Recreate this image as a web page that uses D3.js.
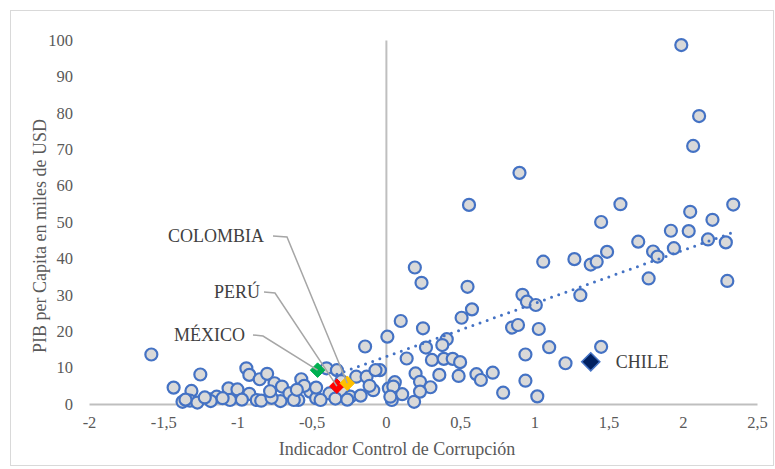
<!DOCTYPE html>
<html><head><meta charset="utf-8">
<script src="https://cdn.jsdelivr.net/npm/d3@7"></script>
<style>body{margin:0;background:#fff}svg{display:block}</style>
</head><body><svg id="c" width="775" height="469"></svg>
<script>
// Data: [Indicador Control de Corrupción, PIB per capita (miles USD)]
const countryX = [1.99,2.11,2.07,1.58,2.34,1.45,2.05,2.20,1.70,1.92,2.04,1.27,1.38,1.42,1.49,1.80,1.83,1.94,2.17,2.29,1.77,2.30,1.31,1.21,1.45,
 0.56,0.90,0.195,1.06,
 0.24,0.55,0.58,0.51,0.92,0.95,1.01,0.10,0.25,0.01,0.85,0.89,1.03,1.10,0.94,0.94,1.02,0.79,0.72,0.61,0.64,0.49,0.36,0.41,0.38,0.27,0.14,0.31,0.39,0.45,0.50,0.20,0.23,0.30,0.06,0.02,0.11,0.04,0.19,0.23,
 -0.14,-0.04,0.05,
 -1.58,-1.25,-1.43,-1.31,-1.37,-1.32,-1.27,-1.18,-1.14,-1.18,-1.06,-1.00,-0.94,-0.92,-0.85,-0.80,-0.92,-0.87,-1.05,-1.10,-1.22,-1.35,-0.97,
 -0.75,-0.70,-0.71,-0.65,-0.57,-0.59,-0.51,-0.47,-0.40,-0.38,-0.29,-0.24,-0.20,-0.13,-0.07,-0.085,
 -0.84,-0.77,-0.62,-0.44,-0.34,-0.26,-0.17,-0.33,-0.11,-0.55,-0.47,-0.78,-0.60,-0.30,0.03];
const countryY = [98.6,79.1,70.9,54.9,54.8,50.0,52.8,50.6,44.6,47.6,47.5,39.8,38.3,39.1,41.8,41.9,40.5,42.8,45.2,44.4,34.5,33.8,29.9,11.2,15.7,
 54.7,63.5,37.5,39.1,
 33.3,32.2,26.0,23.7,30.0,28.1,27.2,22.8,20.8,18.5,21.0,21.7,20.6,15.6,13.6,6.4,2.1,3.1,8.6,8.2,6.6,7.7,8.0,17.8,16.2,15.5,12.5,12.1,12.4,12.4,11.5,8.4,6.1,4.6,6.0,4.3,2.7,1.1,0.6,3.4,
 15.8,9.3,4.8,
 13.6,8.1,4.5,3.6,0.6,0.9,0.4,1.3,2.0,0.8,4.3,4.0,9.8,8.0,6.8,8.3,2.8,1.1,1.1,1.6,1.8,1.2,1.2,
 5.7,4.8,0.8,2.9,6.8,1.1,3.4,1.6,9.8,2.9,3.4,2.0,7.5,7.5,9.3,3.8,
 0.9,1.7,1.1,1.1,1.5,1.2,2.3,9.3,5.0,5.0,4.5,3.5,3.9,6.3,2.0];

const highlightNames = ["MÉXICO","PERÚ","COLOMBIA"];
const highlightX = [-0.46,-0.33,-0.26];
const highlightY = [9.3,4.9,5.7];
const highlightColors = ["#00b050","#ff0000","#ffc000"];

const chileName = "CHILE";
const chileX = 1.38;
const chileY = 11.6;

const xTicks = [-2,-1.5,-1,-0.5,0,0.5,1,1.5,2,2.5];
const yTicks = [0,10,20,30,40,50,60,70,80,90,100];

// Trend line (linear fit)
const trendSlope = 14.6, trendIntercept = 13.0;
const trendRange = [-0.33, 2.33];

const xTitle = "Indicador Control de Corrupción";
const yTitle = "PIB per Capita en miles de USD";

const svg = d3.select("#c");
const font = "'Liberation Serif','Times New Roman',serif";

svg.append("rect").attr("x",10.5).attr("y",10.5).attr("width",763).attr("height",455)
  .attr("fill","#fff").attr("stroke","#d9d9d9").attr("stroke-width",1);

const x = d3.scaleLinear().domain([-2,2.5]).range([89,757]);
const y = d3.scaleLinear().domain([0,100]).range([404,40]);

const xAxis = d3.axisBottom(x).tickValues(xTicks).tickSize(0).tickPadding(12)
  .tickFormat(d => String(d).replace(".", ","));
const gx = svg.append("g").attr("transform",`translate(0,${y(0)})`).call(xAxis);
gx.select(".domain").attr("stroke","#bfbfbf").attr("stroke-width",2);
gx.selectAll("text").attr("font-family",font).attr("font-size",16.5).attr("fill","#595959");

const yAxis = d3.axisLeft(y).tickValues(yTicks).tickSize(0).tickPadding(0);
const gy = svg.append("g").attr("transform",`translate(${x(0)},0)`).call(yAxis);
gy.select(".domain").attr("stroke","#bfbfbf").attr("stroke-width",2);
gy.selectAll("text").attr("font-family",font).attr("font-size",16.5).attr("fill","#595959")
  .attr("x", 73 - x(0)).attr("text-anchor","end");

svg.append("text").attr("x",397).attr("y",455).attr("text-anchor","middle")
  .attr("font-family",font).attr("font-size",18).attr("fill","#595959").text(xTitle);
svg.append("text").attr("transform","translate(46,236) rotate(-90)").attr("text-anchor","middle")
  .attr("font-family",font).attr("font-size",18).attr("fill","#595959").text(yTitle);

const pts = countryX.map((v,i)=>({x:v,y:countryY[i]}));
svg.append("g").selectAll("circle").data(pts).join("circle")
  .attr("cx",d=>x(d.x)).attr("cy",d=>y(d.y)).attr("r",6)
  .attr("fill","#d9d9d9").attr("stroke","#4472c4").attr("stroke-width",2.2);

svg.append("line")
  .attr("x1",x(trendRange[0])).attr("y1",y(trendSlope*trendRange[0]+trendIntercept))
  .attr("x2",x(trendRange[1])).attr("y2",y(trendSlope*trendRange[1]+trendIntercept))
  .attr("stroke","#4472c4").attr("stroke-width",3).attr("stroke-linecap","round")
  .attr("stroke-dasharray","0 7.6");

const diamond = d3.symbol().type(d3.symbolDiamond2);
const hl = highlightNames.map((n,i)=>({name:n,x:highlightX[i],y:highlightY[i],c:highlightColors[i]}));
svg.append("g").selectAll("path").data(hl).join("path")
  .attr("d", diamond.size(135)())
  .attr("transform",d=>`translate(${x(d.x)},${y(d.y)})`)
  .attr("fill",d=>d.c).attr("stroke",d=>d.c).attr("stroke-width",1);

svg.append("path").attr("d", diamond.size(210)())
  .attr("transform",`translate(${x(chileX)},${y(chileY)})`)
  .attr("fill","#002060").attr("stroke","#4472c4").attr("stroke-width",1.5);
svg.append("text").attr("x",x(chileX)+25).attr("y",y(chileY)+6)
  .attr("font-family",font).attr("font-size",18).attr("fill","#404040").text(chileName);

const labelLayout = {"MÉXICO":[245,335,253,263],"PERÚ":[260,292,264,275],"COLOMBIA":[264,236,273,287]};
hl.forEach(d=>{
  const [tx,ty,l1,l2] = labelLayout[d.name];
  svg.append("text").attr("x",tx).attr("y",ty+6).attr("text-anchor","end")
    .attr("font-family",font).attr("font-size",18).attr("fill","#404040").text(d.name);
  svg.append("polyline").attr("points",`${l1},${ty} ${l2},${ty+1} ${x(d.x)},${y(d.y)}`)
    .attr("fill","none").attr("stroke","#a6a6a6").attr("stroke-width",1.5);
});
</script></body></html>
